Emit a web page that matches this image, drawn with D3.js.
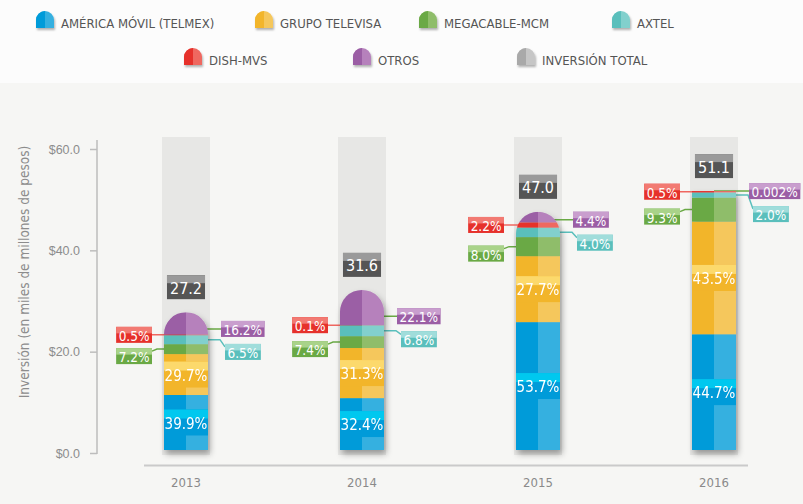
<!DOCTYPE html>
<html>
<head>
<meta charset="utf-8">
<script src="https://cdn.jsdelivr.net/npm/d3@7"></script>
<style>
body{margin:0;background:#f6f6f4;}
svg{display:block;font-family:"Liberation Sans Narrow","DejaVu Sans Condensed","Liberation Sans",sans-serif;}
</style>
</head>
<body>
<svg id="chart" width="803" height="504"></svg>
<script>
// datos
var years=["2013","2014","2015","2016"];
var totals=[27.2,31.6,47.0,51.1];
var seriesNames=["AMÉRICA MÓVIL (TELMEX)","GRUPO TELEVISA","MEGACABLE-MCM","AXTEL","DISH-MVS","OTROS"];
var america=[39.9,32.4,53.7,44.7];
var televisa=[29.7,31.3,27.7,43.5];
var megacable=[7.2,7.4,8.0,9.3];
var axtel=[6.5,6.8,4.0,2.0];
var dish=[0.5,0.1,2.2,0.5];
var otros=[16.2,22.1,4.4,0.002];
var yTicks=[0,20,40,60];
var totalName="INVERSIÓN TOTAL";
var yTitle="Inversión (en miles de millones de pesos)";

var shares=[america,televisa,megacable,axtel,dish,otros];
// base, claro, realce
var colors=[
 ["#009bd9","#36b0e0","#00c8ef"],
 ["#f2b52b","#f5c75c","#fcd96c"],
 ["#6aa945","#8fbd6b","#a9d389"],
 ["#5abfbc","#82d0cd","#a0dddb"],
 ["#e6312b","#ef6760","#f27a72"],
 ["#9b5ea5","#b681bc","#c99ece"]
];
var grayCol=["#555555","#9a9a9a"];
var legendGray=["#a9a9a9","#c6c6c6"];

var svg=d3.select("#chart");
var width=803,height=504;

var defs=svg.append("defs");
var f=defs.append("filter").attr("id","shadow").attr("x","-30%").attr("y","-10%").attr("width","160%").attr("height","130%");
f.append("feDropShadow").attr("dx",2).attr("dy",4).attr("stdDeviation",3).attr("flood-color","#000").attr("flood-opacity",0.35);
var f2=defs.append("filter").attr("id","shadowS").attr("x","-30%").attr("y","-30%").attr("width","160%").attr("height","180%");
f2.append("feDropShadow").attr("dx",1).attr("dy",2).attr("stdDeviation",1.2).attr("flood-color","#000").attr("flood-opacity",0.3);

// fondo superior
svg.append("rect").attr("width",width).attr("height",83).attr("fill","#fcfcfc");
svg.append("rect").attr("y",83).attr("width",width).attr("height",height-83).attr("fill","#f6f6f4");

// leyenda
var legendPos=[[36,11],[255,11],[419,11],[612,11],[184,48],[353,48],[517,48]];
var legendItems=seriesNames.map(function(n,i){return {name:n,c:colors[i]};});
legendItems.push({name:totalName,c:legendGray});
var lg=svg.selectAll(".leg").data(legendItems).enter().append("g").attr("class","leg")
 .attr("transform",function(d,i){return "translate("+legendPos[i][0]+","+legendPos[i][1]+")";});
lg.append("path").attr("d","M0,17L0,9A9,9 0 0 1 18,9L18,17Z").attr("fill",function(d){return d.c[1];}).attr("filter","url(#shadowS)");
lg.append("path").attr("d","M0,17L0,9A9,9 0 0 1 9,0L9,17Z").attr("fill",function(d){return d.c[0];});
lg.append("text").attr("x",25).attr("y",12).attr("dominant-baseline","central")
 .attr("font-size",13).attr("fill","#555").text(function(d){return d.name;});

// escalas
var x=d3.scaleBand().domain(years).range([98,802]);
var y=d3.scaleLinear().domain([0,60]).range([450,146]);
var barW=44;

// eje y
var ax=svg.append("g").attr("transform","translate(97,3)")
 .call(d3.axisLeft(y).tickValues(yTicks).tickFormat(function(d){return "$"+d.toFixed(1);}).tickSize(7).tickPadding(10));
ax.select(".domain").remove();
ax.selectAll(".tick line").attr("stroke","#bdbdbd").attr("stroke-width",1.5);
ax.selectAll(".tick text").attr("fill","#8c8c8c").attr("font-size",12.5).attr("font-family",null);
svg.append("line").attr("x1",97).attr("x2",97).attr("y1",140).attr("y2",454).attr("stroke","#bdbdbd").attr("stroke-width",1.5);

svg.append("text").attr("transform","translate(24,272) rotate(-90)").attr("text-anchor","middle")
 .attr("dominant-baseline","central").attr("font-size",13.5).attr("fill","#8c8c8c").text(yTitle);

// linea base y años
svg.append("line").attr("x1",144).attr("x2",748).attr("y1",465.5).attr("y2",465.5).attr("stroke","#cacaca").attr("stroke-width",2);
svg.selectAll(".yr").data(years).enter().append("text").attr("class","yr")
 .attr("x",function(d){return x(d)+x.bandwidth()/2;}).attr("y",482).attr("text-anchor","middle")
 .attr("dominant-baseline","central").attr("font-size",13).attr("fill","#8a8a8a").text(function(d){return d;});

function fmt(v){return v<0.1?v+"%":v.toFixed(1)+"%";}

// columnas
years.forEach(function(yr,i){
 var cx=x(yr)+x.bandwidth()/2, x0=cx-barW/2, x1=cx+barW/2;
 var tot=totals[i];
 var g=svg.append("g");
 g.append("rect").attr("x",cx-24).attr("y",137).attr("width",48).attr("height",455-137).attr("fill","#e7e7e5");

 // segmentos
 var cum=0, segs=[];
 shares.forEach(function(s,k){
  var v=tot*s[i]/100;
  segs.push({k:k,y0:y(cum),y1:y(cum+v),mid:y(cum+v/2)});
  cum+=v;
 });
 var top=y(tot), base=y(0);
 var r=barW/2;
 var round=otros[i]>1;

 var lines=g.append("g"), boxes=svg.append("g");
 function box(gr,bx,by,txt,c,anchor){
  var t=gr.append("text").attr("font-size",13.5).attr("fill","#fff").attr("dominant-baseline","central").text(txt);
  var w=t.node().getComputedTextLength()+5, h=16;
  var left=anchor==="end"?bx-w:bx;
  gr.insert("rect","text").attr("x",left).attr("y",by-h/2).attr("width",w).attr("height",h).attr("fill",c[0]);
  gr.insert("rect","text").attr("x",left).attr("y",by-h/2).attr("width",w).attr("height",6.5).attr("fill",c[2]);
  t.attr("x",left+w/2).attr("y",by+1).attr("text-anchor","middle");
  return {left:left,w:w,top:by-h/2,bottom:by+h/2};
 }
 // DISH izquierda
 var sd=segs[4];
 var bd=box(boxes,x0-12,sd.mid,fmt(dish[i]),colors[4],"end");
 lines.append("polyline").attr("points",[[cx,sd.mid],[bd.left+bd.w,sd.mid]].join(" "))
  .attr("fill","none").attr("stroke",colors[4][1]).attr("stroke-width",1.5);
 // MEGACABLE izquierda
 var sm=segs[2];
 var bm=box(boxes,x0-12,sm.mid+7,fmt(megacable[i]),colors[2],"end");
 lines.append("polyline").attr("points",[[cx,sm.mid],[bm.left+bm.w+5,sm.mid],[bm.left+bm.w,bm.top+3]].join(" "))
  .attr("fill","none").attr("stroke",colors[2][0]).attr("stroke-width",1.5);
 // OTROS derecha
 var so=segs[5];
 var oy=so.y1+(so.y0-so.y1)*0.75;
 var bo=box(boxes,x1+13,oy,fmt(otros[i]),colors[5],"start");
 lines.append("polyline").attr("points",[[cx,oy],[bo.left,oy]].join(" "))
  .attr("fill","none").attr("stroke",colors[2][0]).attr("stroke-width",1.5);
 // AXTEL derecha
 var sa=segs[3];
 var ay=Math.max(sa.mid+8,bo.bottom+15);
 var ba=box(boxes,x1+17,ay,fmt(axtel[i]),colors[3],"start");
 lines.append("polyline").attr("points",[[cx,sa.mid],[ba.left-5,sa.mid],[ba.left,ba.top+3]].join(" "))
  .attr("fill","none").attr("stroke",colors[3][0]).attr("stroke-width",1.5);

 // barra
 var clipId="clip"+i;
 var cp=defs.append("clipPath").attr("id",clipId).append("path");
 if(round) cp.attr("d","M"+x0+","+base+"L"+x0+","+(top+r)+"A"+r+","+r+" 0 0 1 "+x1+","+(top+r)+"L"+x1+","+base+"Z");
 else cp.attr("d","M"+x0+","+base+"L"+x0+","+top+"L"+x1+","+top+"L"+x1+","+base+"Z");
 var bg=g.append("g").attr("filter","url(#shadow)").append("g").attr("clip-path","url(#"+clipId+")");
 bg.selectAll(".segL").data(segs).enter().append("rect")
  .attr("x",x0).attr("y",function(d){return d.y1;}).attr("width",barW/2)
  .attr("height",function(d){return Math.max(0,d.y0-d.y1);}).attr("fill",function(d){return colors[d.k][0];});
 bg.selectAll(".segR").data(segs).enter().append("rect")
  .attr("x",cx).attr("y",function(d){return d.y1;}).attr("width",barW/2)
  .attr("height",function(d){return Math.max(0,d.y0-d.y1);}).attr("fill",function(d){return colors[d.k][1];});
 // etiquetas internas
 [0,1].forEach(function(k){
  var s=segs[k];
  bg.append("rect").attr("x",x0).attr("y",s.mid-13).attr("width",barW).attr("height",26).attr("fill",colors[k][0]);
  bg.append("rect").attr("x",x0).attr("y",s.mid-13).attr("width",barW).attr("height",9).attr("fill",colors[k][2]);
  bg.append("text").attr("x",cx).attr("y",s.mid+1).attr("text-anchor","middle").attr("dominant-baseline","central")
   .attr("font-size",15).attr("fill","#fff").text(fmt(shares[k][i]));
 });
 // total
 var tg=svg.append("g");
 var tt=tg.append("text").attr("font-size",16).attr("fill","#fff").attr("text-anchor","middle").attr("dominant-baseline","central").text(tot.toFixed(1));
 var tw=tt.node().getComputedTextLength()+6;
 var tb=top-13;
 tg.insert("rect","text").attr("x",cx-tw/2).attr("y",tb-24).attr("width",tw).attr("height",24).attr("fill",grayCol[0]);
 tg.insert("rect","text").attr("x",cx-tw/2).attr("y",tb-24).attr("width",tw).attr("height",8).attr("fill",grayCol[1]);
 tt.attr("x",cx).attr("y",tb-11);
 boxes.raise();
});
</script>
</body>
</html>
